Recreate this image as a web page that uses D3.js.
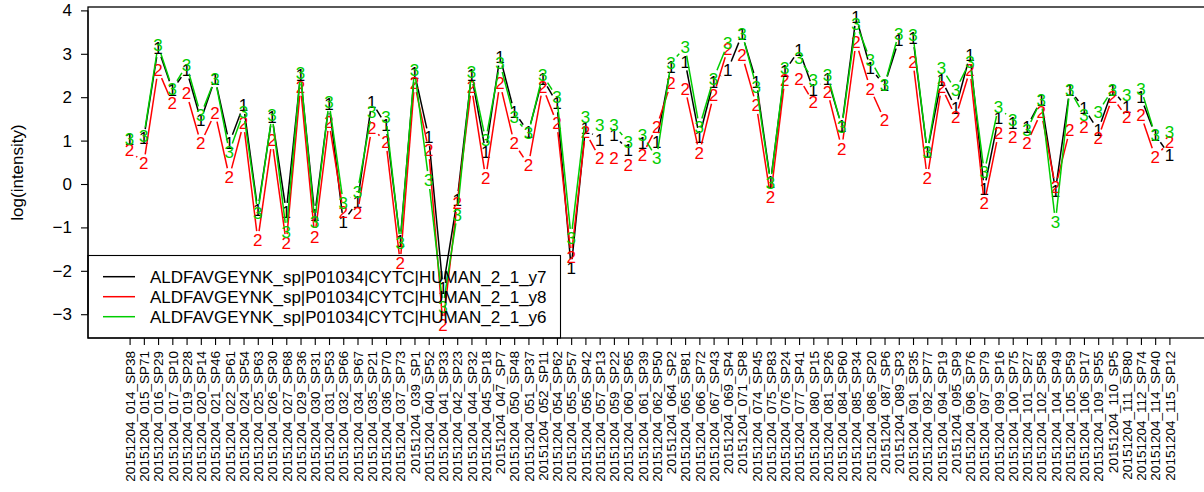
<!DOCTYPE html>
<html>
<head>
<meta charset="utf-8">
<script src="https://cdn.jsdelivr.net/npm/d3@7"></script>
<style>
  html, body { margin: 0; padding: 0; background: #fff; }
  svg { display: block; font-family: "Liberation Sans", Arial, Helvetica, sans-serif; }
</style>
</head>
<body>
<svg id="chart" width="1204" height="492"></svg>
<script>
// Sample run names (x axis)
const categories = [
  "20151204_014_SP38","20151204_015_SP71","20151204_016_SP29","20151204_017_SP10","20151204_019_SP28",
  "20151204_020_SP14","20151204_021_SP46","20151204_022_SP61","20151204_024_SP54","20151204_025_SP63",
  "20151204_026_SP30","20151204_027_SP68","20151204_029_SP36","20151204_030_SP31","20151204_031_SP53",
  "20151204_032_SP66","20151204_034_SP67","20151204_035_SP21","20151204_036_SP70","20151204_037_SP73",
  "20151204_039_SP1","20151204_040_SP52","20151204_041_SP33","20151204_042_SP23","20151204_044_SP32",
  "20151204_045_SP18","20151204_047_SP7","20151204_050_SP48","20151204_051_SP37","20151204_052_SP11",
  "20151204_054_SP62","20151204_055_SP57","20151204_056_SP42","20151204_057_SP13","20151204_059_SP22",
  "20151204_060_SP65","20151204_061_SP39","20151204_062_SP50","20151204_064_SP2","20151204_065_SP81",
  "20151204_066_SP72","20151204_067_SP43","20151204_069_SP4","20151204_071_SP8","20151204_074_SP45",
  "20151204_075_SP83","20151204_076_SP24","20151204_077_SP41","20151204_080_SP15","20151204_081_SP26",
  "20151204_084_SP60","20151204_085_SP34","20151204_086_SP20","20151204_087_SP6","20151204_089_SP3",
  "20151204_091_SP35","20151204_092_SP77","20151204_094_SP19","20151204_095_SP9","20151204_096_SP76",
  "20151204_097_SP79","20151204_099_SP16","20151204_100_SP75","20151204_101_SP27","20151204_102_SP58",
  "20151204_104_SP49","20151204_105_SP59","20151204_106_SP17","20151204_109_SP55","20151204_110_SP5",
  "20151204_111_SP80","20151204_112_SP74","20151204_114_SP40","20151204_115_SP12"
];

// log(intensity) per transition
const y7 = [
  1.05, 1.06, 3.13, 2.17, 2.63, 1.47, 2.43, 0.94, 1.82, -0.60,
  1.55, -0.64, 2.51, -0.71, 1.85, -0.87, -0.41, 1.89, 1.36, -1.30,
  2.56, 1.08, -2.40, -0.37, 2.51, 0.74, 2.93, 1.66, 1.20, 2.43,
  1.86, -1.94, 1.29, 1.01, 1.13, 0.78, 0.94, 0.97, 2.70, 2.82,
  1.09, 2.36, 2.63, 3.45, 2.36, 0.05, 2.60, 3.09, 2.17, 2.43,
  1.33, 3.85, 2.67, 2.28, 3.32, 3.36, 0.74, 2.40, 1.75, 2.97,
  -0.12, 1.52, 1.40, 1.31, 1.94, -0.15, 2.17, 1.75, 1.24, 2.17,
  1.77, 2.00, 1.13, 0.67
];
const y8 = [
  0.78, 0.48, 2.63, 1.86, 2.09, 0.94, 1.64, 0.16, 1.40, -1.29,
  1.01, -1.36, 2.24, -1.22, 1.43, -0.64, -0.67, 1.29, 0.97, -1.82,
  2.32, 0.78, -3.25, -0.44, 2.24, 0.14, 2.32, 0.94, 0.44, 2.24,
  1.40, -1.68, 1.20, 0.60, 0.60, 0.44, 0.67, 1.31, 2.32, 2.20,
  0.71, 2.05, 3.12, 2.97, 1.82, -0.30, 2.40, 2.43, 1.89, 2.13,
  0.82, 3.27, 2.20, 1.47, null, 2.82, 0.14, 2.24, 1.54, 2.63,
  -0.44, 1.17, 1.09, 0.94, 1.66, -0.07, 1.24, 1.31, 1.06, 2.00,
  1.54, 1.59, 0.63, 0.97
];
const y6 = [
  1.05, 1.10, 3.20, 2.20, 2.74, 1.59, 2.43, 0.74, 1.66, -0.67,
  1.59, -1.10, 2.56, -0.87, 1.89, -0.44, -0.18, 1.66, 1.54, -1.36,
  2.63, 0.09, -2.83, -0.70, 2.58, 1.01, 2.78, 1.54, 1.17, 2.51,
  2.00, -1.24, 1.54, 1.36, 1.36, 0.97, 1.13, 0.60, 2.78, 3.16,
  1.31, 2.43, 3.24, 3.47, 2.24, 0.02, 2.67, 2.90, 2.40, 2.51,
  1.31, 3.70, 2.86, 2.28, 3.47, 3.43, 0.74, 2.67, 2.17, 2.82,
  0.27, 1.77, 1.47, 1.24, 1.94, -0.87, 2.17, 1.59, 1.66, 2.17,
  2.05, 2.20, 1.13, 1.20
];

const seriesNames = [
  "ALDFAVGEYNK_sp|P01034|CYTC|HUMAN_2_1_y7",
  "ALDFAVGEYNK_sp|P01034|CYTC|HUMAN_2_1_y8",
  "ALDFAVGEYNK_sp|P01034|CYTC|HUMAN_2_1_y6"
];
const seriesColors = ["#000000", "#FF0000", "#00CD00"];
const seriesSymbols = ["1", "2", "3"];
const yTicks = [-3, -2, -1, 0, 1, 2, 3, 4];

const series = [y7, y8, y6].map((vals, k) => ({
  name: seriesNames[k], color: seriesColors[k], symbol: seriesSymbols[k], values: vals
}));

// Plot region
const box = { left: 88, top: 7, right: 1211, bottom: 338 };
const n = categories.length;
const pad = (n - 1) * 0.04;

const x = d3.scaleLinear().domain([1 - pad, n + pad]).range([box.left, box.right]);
const y = d3.scaleLinear().domain([-3.548, 4.078]).range([box.bottom, box.top]);

const svg = d3.select("#chart");

// Series: segments with gaps around symbols, then the symbols
const gap = 9;
series.forEach(s => {
  const pts = s.values.map((v, i) => v == null ? null : [x(i + 1), y(v)]);
  const g = svg.append("g");
  for (let i = 0; i < pts.length - 1; i++) {
    const a = pts[i], b = pts[i + 1];
    if (!a || !b) continue;
    const dx = b[0] - a[0], dy = b[1] - a[1];
    const len = Math.hypot(dx, dy);
    if (len <= 2 * gap) continue;
    const ux = dx / len, uy = dy / len;
    g.append("line")
      .attr("x1", a[0] + ux * gap).attr("y1", a[1] + uy * gap)
      .attr("x2", b[0] - ux * gap).attr("y2", b[1] - uy * gap)
      .attr("stroke", s.color).attr("stroke-width", 1.5);
  }
  g.selectAll("text.sym")
    .data(s.values.map((v, i) => ({ v, i })).filter(d => d.v != null))
    .join("text")
    .attr("class", "sym")
    .attr("x", d => x(d.i + 1))
    .attr("y", d => y(d.v))
    .attr("dy", "0.36em")
    .attr("text-anchor", "middle")
    .attr("font-size", 17)
    .attr("fill", s.color)
    .text(s.symbol);
});

// Frame
svg.append("rect")
  .attr("x", box.left).attr("y", box.top)
  .attr("width", box.right - box.left).attr("height", box.bottom - box.top)
  .attr("fill", "none").attr("stroke", "#000").attr("stroke-width", 1.3);

// Y axis
const yAxis = svg.append("g")
  .attr("transform", `translate(${box.left},0)`)
  .call(d3.axisLeft(y).tickValues(yTicks).tickSize(7).tickPadding(9).tickFormat(d3.format("d")));
yAxis.select(".domain").attr("d", `M0,${y(-3)}V${y(4)}`).attr("stroke-width", 1.1);
yAxis.selectAll(".tick line").attr("stroke-width", 1.1);
yAxis.selectAll("text").attr("font-size", 17).attr("font-family", null).attr("fill", "#000");

// X axis
const xAxis = svg.append("g")
  .attr("transform", `translate(0,${box.bottom})`)
  .call(d3.axisBottom(x).tickValues(d3.range(1, n + 1)).tickSize(7).tickFormat(i => categories[i - 1]));
xAxis.select(".domain").remove();
xAxis.selectAll(".tick line").attr("stroke-width", 1.1);
xAxis.selectAll("text")
  .attr("font-size", 13.5)
  .attr("font-family", null)
  .attr("fill", "#000")
  .attr("text-anchor", "end")
  .attr("transform", "rotate(-90)")
  .attr("x", -13)
  .attr("y", 0)
  .attr("dy", "0.35em");

// Y axis title
svg.append("text")
  .attr("transform", `translate(23,${(box.top + box.bottom) / 2}) rotate(-90)`)
  .attr("text-anchor", "middle")
  .attr("font-size", 17)
  .text("log(intensity)");

// Legend
const legend = svg.append("g");
legend.append("rect")
  .attr("x", box.left).attr("y", 255.5)
  .attr("width", 560.5 - box.left).attr("height", box.bottom - 255.5)
  .attr("fill", "none").attr("stroke", "#000").attr("stroke-width", 1.1);
series.forEach((s, k) => {
  const ly = 276.7 + k * 20;
  legend.append("line")
    .attr("x1", 103).attr("x2", 135).attr("y1", ly).attr("y2", ly)
    .attr("stroke", s.color).attr("stroke-width", 1.5);
  legend.append("text")
    .attr("x", 150).attr("y", ly).attr("dy", "0.36em")
    .attr("font-size", 17)
    .text(s.name);
});
</script>
</body>
</html>
